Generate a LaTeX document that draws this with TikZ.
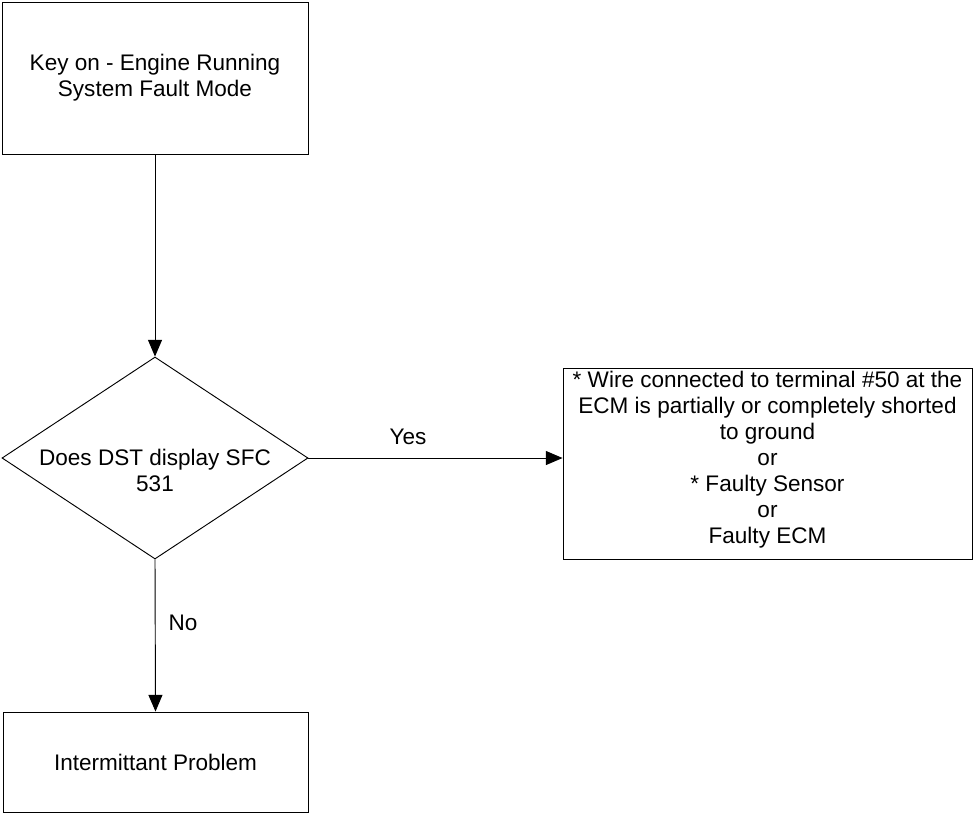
\documentclass[tikz,border=0pt]{standalone}
\usepackage{fontspec}
\setmainfont{Liberation Sans}
\usetikzlibrary{shapes.geometric,arrows.meta}
\begin{document}
\begin{tikzpicture}[x=0.75pt,y=-0.75pt,
  every node/.style={font=\fontsize{16.9}{19.5}\selectfont},
  boxnode/.style={draw=black, line width=0.7pt, rectangle, inner sep=0pt, align=center},
  decnode/.style={draw=black, line width=0.7pt, diamond, inner sep=0pt, minimum width=229.5pt, minimum height=151.5pt},
  conn/.style={draw=black, line width=0.7pt, -{Triangle[length=12.5pt,width=10.5pt]}},
  lbl/.style={inner sep=0pt}]
\useasboundingbox (0,0) rectangle (973,814);
\node[boxnode, minimum width=229.5pt, minimum height=114pt] (start) at (155,78)
  {Key on - Engine Running\\System Fault Mode};
\node[decnode] (dec) at (155,458) {};
\node[lbl, align=center] (dectext) at (155,470) {Does DST display SFC\\531};
\node[boxnode, minimum width=306.75pt, minimum height=143.25pt] (fault) at (767.5,463.5) {};
\node[lbl, align=center] (faulttext) at (767.5,460)
  {* Wire connected to terminal \#50 at the\\ECM is partially or completely shorted\\to ground\\or\\* Faulty Sensor\\or\\Faulty ECM};
\node[boxnode, minimum width=228.75pt, minimum height=75pt] (inter) at (155.5,762)
  {Intermittant Problem};
\draw[conn] (start.south) -- (dec.north);
\draw[conn] (dec.east) -- (dec.east -| fault.west);
\draw[conn] (dec.south) -- (inter.north);
\node[lbl] (yes) at (408,437) {Yes};
\node[lbl] (no) at (183,623) {No};
\end{tikzpicture}
\end{document}
